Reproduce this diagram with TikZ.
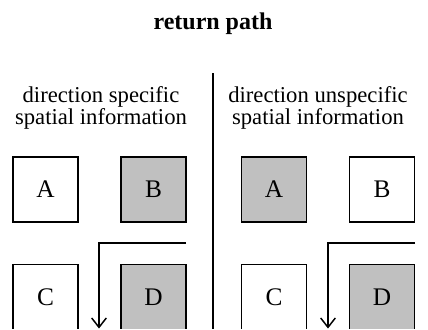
\documentclass[tikz,border=0pt]{standalone}
\usepackage{fontspec}
\setmainfont{Liberation Serif}
\usetikzlibrary{arrows.meta}
\definecolor{boxgray}{RGB}{192,192,192}
\tikzset{
    cell/.style={draw, line width=1.25pt, minimum size=48.75pt, inner sep=0pt, font=\fontsize{19}{20}\selectfont},
    shaded/.style={cell, fill=boxgray},
    head/.style={align=center, font=\fontsize{17}{16.5}\selectfont},
}
\begin{document}
\begin{tikzpicture}[x=0.75pt, y=-0.75pt]
    \useasboundingbox (0,0) rectangle (428,329);
    \clip (0,0) rectangle (428,328.5);
    \node[font=\fontsize{18}{20}\selectfont\bfseries] (title) at (213,24) {return path};
    % divider
    \coordinate (divtop) at (213,73);
    \coordinate (divbot) at (213,330);
    \draw[line width=1.1pt] (divtop) -- (divbot);
    % left half
    \node[head] (lefthead) at (101,108) {direction specific\\spatial information};
    \node[cell] (la) at (45.5,189.5) {A};
    \node[shaded] (lb) at (153.5,189.5) {B};
    \node[cell] (lc) at (45.5,297) {C};
    \node[shaded] (ld) at (153.5,297) {D};
    \coordinate (lstart) at (186,243);
    \coordinate (lend) at (99,328.5);
    \draw[line width=1.1pt, -{Straight Barb[length=7pt, width=11pt]}] (lstart) -| (lend);
    % right half
    \node[head] (righthead) at (318,108) {direction unspecific\\spatial information};
    \node[shaded] (ra) at (274,189.5) {A};
    \node[cell] (rb) at (382,189.5) {B};
    \node[cell] (rc) at (274,297) {C};
    \node[shaded] (rd) at (382,297) {D};
    \coordinate (rstart) at (415,243);
    \coordinate (rend) at (328,328.5);
    \draw[line width=1.1pt, -{Straight Barb[length=7pt, width=11pt]}] (rstart) -| (rend);
\end{tikzpicture}
\end{document}
